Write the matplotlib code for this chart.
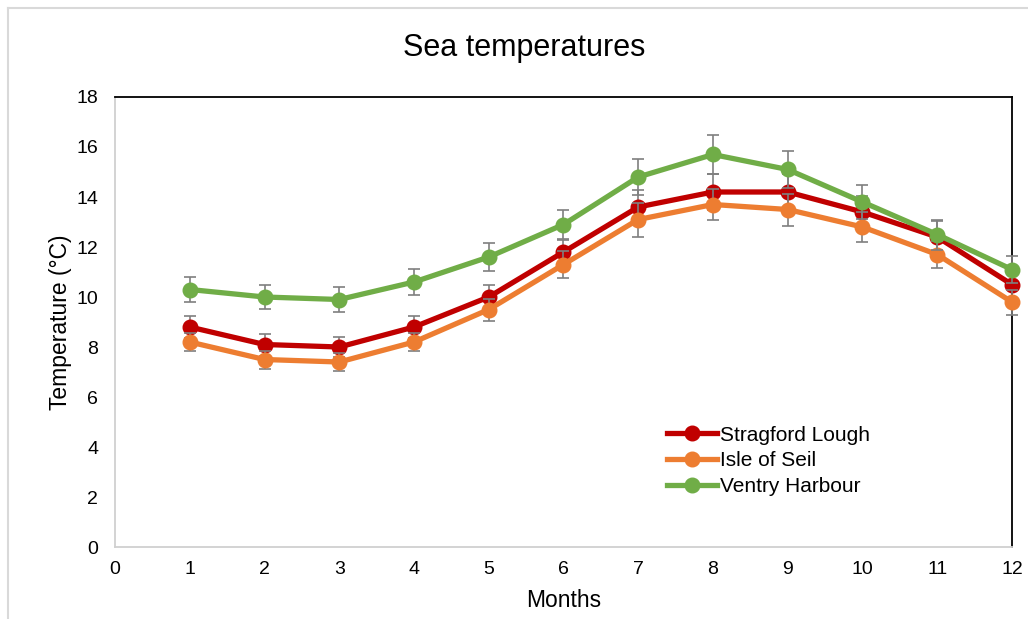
import matplotlib.pyplot as plt
from matplotlib.lines import Line2D

plt.rcParams['font.family'] = ['Liberation Sans', 'DejaVu Sans']

months = list(range(1, 13))

stragford = [8.8, 8.1, 8.0, 8.8, 10.0, 11.8, 13.6, 14.2, 14.2, 13.4, 12.4, 10.5]
stragford_err = [0.44, 0.44, 0.39, 0.44, 0.47, 0.5, 0.67, 0.7, 0.7, 0.65, 0.65, 0.6]

seil = [8.2, 7.5, 7.4, 8.2, 9.5, 11.3, 13.1, 13.7, 13.5, 12.8, 11.7, 9.8]
seil_err = [0.37, 0.36, 0.35, 0.37, 0.44, 0.55, 0.68, 0.63, 0.64, 0.6, 0.55, 0.5]

ventry = [10.3, 10.0, 9.9, 10.6, 11.6, 12.9, 14.8, 15.7, 15.1, 13.8, 12.5, 11.1]
ventry_err = [0.5, 0.48, 0.49, 0.51, 0.57, 0.58, 0.73, 0.78, 0.73, 0.69, 0.6, 0.54]

series = [
    ('Stragford Lough', stragford, stragford_err, '#C00000'),
    ('Isle of Seil', seil, seil_err, '#ED7D31'),
    ('Ventry Harbour', ventry, ventry_err, '#70AD47'),
]

fig = plt.figure(figsize=(10.28, 6.19), dpi=100)
ax = fig.add_axes([0.1119, 0.1163, 0.8725, 0.727])

for i, (name, vals, err, col) in enumerate(series):
    eb = ax.errorbar(months, vals, yerr=err, fmt='none', ecolor='#7f7f7f',
                     elinewidth=1.2, capsize=4, capthick=1.2, zorder=2 + i * 2)
    for art in eb.lines[1] + eb.lines[2]:
        art.set_clip_on(False)
    ax.plot(months, vals, color=col, lw=3.8, marker='o', markersize=10.5,
            label=name, zorder=3 + i * 2, clip_on=False)

ax.set_xlim(0, 12)
ax.set_ylim(0, 18)
ax.set_xticks(range(0, 13))
ax.set_yticks(range(0, 19, 2))
ax.tick_params(length=0, labelsize=14, colors='#000000')
ax.tick_params(axis='y', pad=12)
ax.tick_params(axis='x', pad=10)

for s in ('left', 'bottom'):
    ax.spines[s].set_color('#d0d0d0')
    ax.spines[s].set_linewidth(1.3)
for s in ('top', 'right'):
    ax.spines[s].set_color('#000000')
    ax.spines[s].set_linewidth(1.3)

ax.set_xlabel('Months', fontsize=16.5, labelpad=8)
ax.set_ylabel('Temperature (°C)', fontsize=16.5, labelpad=3)
fig.text(0.51, 0.922, 'Sea temperatures', fontsize=22, ha='center', va='center')

leg = ax.legend(loc='upper left', bbox_to_anchor=(0.606, 0.288), frameon=False,
                fontsize=15, handlelength=2.4, handletextpad=0.15,
                labelspacing=0.32, borderaxespad=0)

# light border along the top and left of the figure
fig.add_artist(Line2D([8 / 1028, 1], [1 - 8 / 619, 1 - 8 / 619],
                      transform=fig.transFigure, color='#d9d9d9', lw=1.5))
fig.add_artist(Line2D([8 / 1028, 8 / 1028], [0, 1 - 8 / 619],
                      transform=fig.transFigure, color='#d9d9d9', lw=1.5))

fig.savefig('out.png', dpi=100)
